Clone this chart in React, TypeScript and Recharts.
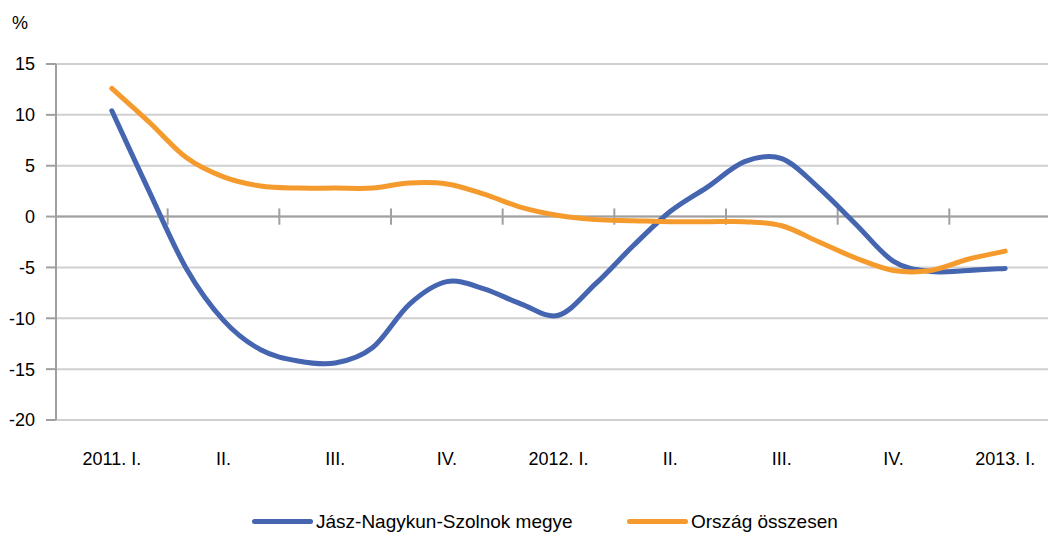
import { LineChart, Line, XAxis, YAxis, CartesianGrid, ReferenceLine } from "recharts"

const QUARTER_LABELS = ["2011. I.", "II.", "III.", "IV.", "2012. I.", "II.", "III.", "IV.", "2013. I."]
const QUARTER_TICKS = [0, 3, 6, 9, 12, 15, 18, 21, 24]
const QUARTER_BOUNDS = [1.5, 4.5, 7.5, 10.5, 13.5, 16.5, 19.5, 22.5]
const Y_TICKS = [-20, -15, -10, -5, 0, 5, 10, 15]

// monthly values, 2011 Jan .. 2013 Jan
const JNSZ = [10.4, 2.5, -5.1, -10.2, -13.1, -14.2, -14.4, -12.9, -8.6, -6.4, -7.1, -8.6, -9.7, -6.6, -2.9, 0.5, 2.9, 5.4, 5.7, 2.8, -0.8, -4.4, -5.4, -5.3, -5.1]
const ORSZAG = [12.6, 9.3, 5.8, 3.9, 3.0, 2.8, 2.8, 2.8, 3.3, 3.2, 2.2, 0.9, 0.1, -0.3, -0.4, -0.5, -0.5, -0.5, -0.9, -2.5, -4.1, -5.3, -5.3, -4.2, -3.4]

const SERIES = [
  { key: "jnsz", name: "Jász-Nagykun-Szolnok megye", color: "#4565B0", left: 252 },
  { key: "orszag", name: "Ország összesen", color: "#F59B2E", left: 627 },
]

const AXIS_GRAY = "#a0a0a0"
const GRID_GRAY = "#d0d0d0"

const data = JNSZ.map((value, index) => ({
  m: index,
  jnsz: value,
  orszag: ORSZAG[index],
}))

function formatQuarter(value: number) {
  return QUARTER_LABELS[QUARTER_TICKS.indexOf(value)] ?? ""
}

// spreadsheet-style smoothed line (catmull-rom through every point)
function smoothCurve(context: any) {
  let pts: [number, number][] = []
  return {
    areaStart() {},
    areaEnd() {},
    lineStart() {
      pts = []
    },
    point(x: number, y: number) {
      pts.push([+x, +y])
    },
    lineEnd() {
      const n = pts.length
      if (!n) return
      context.moveTo(pts[0][0], pts[0][1])
      for (let i = 0; i < n - 1; i++) {
        const p0 = pts[Math.max(i - 1, 0)]
        const p1 = pts[i]
        const p2 = pts[i + 1]
        const p3 = pts[Math.min(i + 2, n - 1)]
        context.bezierCurveTo(
          p1[0] + (p2[0] - p0[0]) / 6,
          p1[1] + (p2[1] - p0[1]) / 6,
          p2[0] - (p3[0] - p1[0]) / 6,
          p2[1] - (p3[1] - p1[1]) / 6,
          p2[0],
          p2[1]
        )
      }
    },
  }
}

export default function App() {
  return (
    <div
      style={{
        position: "fixed",
        left: 0,
        top: 0,
        width: 1048,
        height: 534,
        overflow: "hidden",
        background: "#fff",
        fontFamily: "'Liberation Sans', Arial, sans-serif",
        color: "#000",
      }}
    >
      <div style={{ position: "absolute", left: 12, top: 14, fontSize: 18, lineHeight: "18px" }}>%</div>

      <LineChart width={1062} height={534} data={data} margin={{ top: 64, right: 1, bottom: 84, left: 0 }}>
        <CartesianGrid vertical={false} stroke={GRID_GRAY} strokeWidth={2} />
        <XAxis
          dataKey="m"
          type="number"
          domain={[-1.5, 25.5]}
          ticks={QUARTER_TICKS}
          interval={0}
          tickFormatter={formatQuarter}
          axisLine={false}
          tickLine={false}
          tickSize={0}
          tickMargin={32}
          height={30}
          tick={{ fill: "#000", fontSize: 18 }}
        />
        <YAxis
          type="number"
          domain={[-20, 15]}
          ticks={Y_TICKS}
          interval={0}
          width={56}
          axisLine={{ stroke: AXIS_GRAY, strokeWidth: 2 }}
          tickLine={{ stroke: AXIS_GRAY, strokeWidth: 2 }}
          tickSize={10}
          tickMargin={11}
          tick={{ fill: "#000", fontSize: 18 }}
        />
        <ReferenceLine y={0} stroke={AXIS_GRAY} strokeWidth={2} />
        {QUARTER_BOUNDS.map((b) => (
          <ReferenceLine
            key={b}
            segment={[
              { x: b, y: -0.8 },
              { x: b, y: 0.8 },
            ]}
            stroke={AXIS_GRAY}
            strokeWidth={2}
          />
        ))}
        {SERIES.map((s) => (
          <Line
            key={s.key}
            dataKey={s.key}
            name={s.name}
            type={smoothCurve as any}
            stroke={s.color}
            strokeWidth={5}
            strokeLinecap="round"
            strokeLinejoin="round"
            dot={false}
            activeDot={false}
            isAnimationActive={false}
          />
        ))}
      </LineChart>

      {SERIES.map((s) => (
        <div
          key={s.key}
          style={{
            position: "absolute",
            left: s.left,
            top: 512,
            display: "flex",
            alignItems: "center",
            fontSize: 19,
            lineHeight: "19px",
            whiteSpace: "nowrap",
          }}
        >
          <span style={{ display: "inline-block", width: 61, height: 5, borderRadius: 3, background: s.color }} />
          <span style={{ marginLeft: 3 }}>{s.name}</span>
        </div>
      ))}
    </div>
  )
}
